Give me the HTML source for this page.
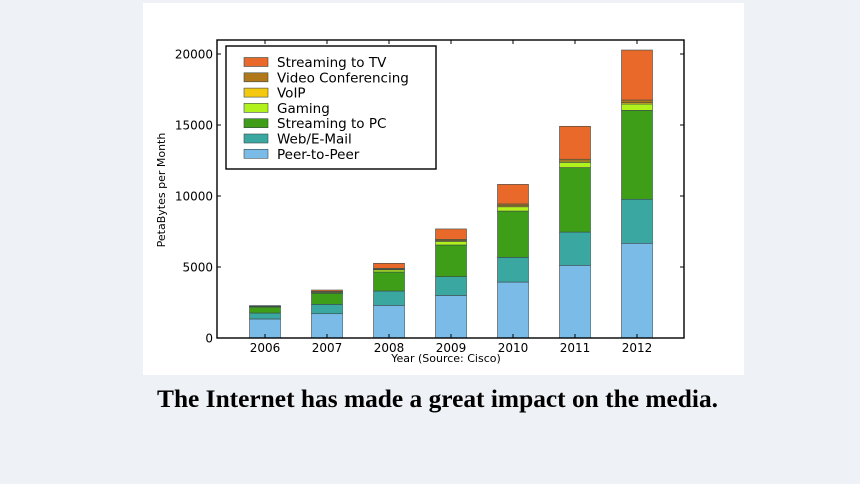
<!DOCTYPE html>
<html><head><meta charset="utf-8"><style>
html,body{margin:0;padding:0;width:860px;height:484px;overflow:hidden;background:#eef1f5;}
svg{display:block}
</style></head><body>
<svg id="chart" width="860" height="484" xmlns="http://www.w3.org/2000/svg">
<rect x="0" y="0" width="860" height="484" fill="#eef1f5"/>
<rect x="143" y="3" width="601" height="372" fill="#ffffff"/>
<g id="plot"></g>
<text x="157" y="407" font-family="Liberation Serif, serif" font-weight="bold" font-size="25" textLength="561" lengthAdjust="spacingAndGlyphs" fill="#000">The Internet has made a great impact on the media.</text>
</svg>
<script>
const years = ["2006","2007","2008","2009","2010","2011","2012"];
const seriesNames = ["Peer-to-Peer","Web/E-Mail","Streaming to PC","Gaming","VoIP","Video Conferencing","Streaming to TV"];
const p2p = [1340,1710,2300,3000,3940,5120,6670];
const web = [420,660,1010,1320,1740,2340,3100];
const pcStream = [420,780,1340,2230,3260,4540,6260];
const gaming = [30,60,150,250,300,370,450];
const voip = [10,20,50,60,70,80,90];
const videoConf = [20,50,60,90,130,140,190];
const tvStream = [40,100,350,730,1380,2320,3520];
const yTicks = [0,5000,10000,15000,20000];
const colors = ["#7abbe8","#3aa8a0","#3f9e18","#b2f21c","#f5c810","#b07818","#e8692a"];
const allSeries = [p2p,web,pcStream,gaming,voip,videoConf,tvStream];

const NS="http://www.w3.org/2000/svg";
const plot=document.getElementById('plot');
const L=217,R=684,T=40,B=338;
const yMax=20000*(B-T)/(338-54);
const y=v=>B-v/yMax*(B-T);
const x0=265,step=62,bw=31;
const x=i=>x0+i*step;
function mk(tag,attrs){const e=document.createElementNS(NS,tag);for(const k in attrs)e.setAttribute(k,attrs[k]);plot.appendChild(e);return e;}

years.forEach((yr,i)=>{
  let base=0;
  allSeries.forEach((s,j)=>{
    const v=s[i];
    const r=mk('rect',{x:x(i)-bw/2,y:y(base+v),width:bw,height:y(base)-y(base+v),fill:colors[j],stroke:'#3a4a4a','stroke-width':0.6});
    
    
    base+=v;
  });
});
const fr=mk('rect',{x:L,y:T,width:R-L,height:B-T,fill:'none',stroke:'#000','stroke-width':1.4});


yTicks.forEach(t=>{
  const ln=mk('path',{d:`M${L} ${y(t)}h4M${R} ${y(t)}h-4`,stroke:'#000','stroke-width':1});
  
  
  const tx=mk('text',{x:L-4,y:y(t)+4.5,'text-anchor':'end','font-family':'DejaVu Sans, sans-serif','font-size':12,'font-weight':'500'});
  tx.textContent=t;
  
  
});
years.forEach((yr,i)=>{
  const ln=mk('path',{d:`M${x(i)} ${B}v-4M${x(i)} ${T}v4`,stroke:'#000','stroke-width':1});
  
  
  const tx=mk('text',{x:x(i),y:B+14,'text-anchor':'middle','font-family':'DejaVu Sans, sans-serif','font-size':12});
  tx.textContent=yr;
  
  
});
const xt=mk('text',{x:446,y:362,'text-anchor':'middle','font-family':'DejaVu Sans, sans-serif','font-size':11});
xt.textContent='Year (Source: Cisco)';


const yt=mk('text',{x:0,y:0,'text-anchor':'middle','font-family':'DejaVu Sans, sans-serif','font-size':11,transform:'translate(165,190) rotate(-90)'});
yt.textContent='PetaBytes per Month';


const lb=mk('rect',{x:226,y:46,width:210,height:123,fill:'#fff',stroke:'#000','stroke-width':1.4});


for(let k=0;k<7;k++){
  const j=6-k, yy=62+k*15.3;
  const sw=mk('rect',{x:244,y:yy-4.5,width:24,height:9,fill:colors[j],stroke:'#3a4a4a','stroke-width':0.6});
  
  
  const tx=mk('text',{x:277,y:yy+5,'font-family':'DejaVu Sans, sans-serif','font-size':13.5});
  tx.textContent=seriesNames[j];
  
  
}
</script>
</body></html>
